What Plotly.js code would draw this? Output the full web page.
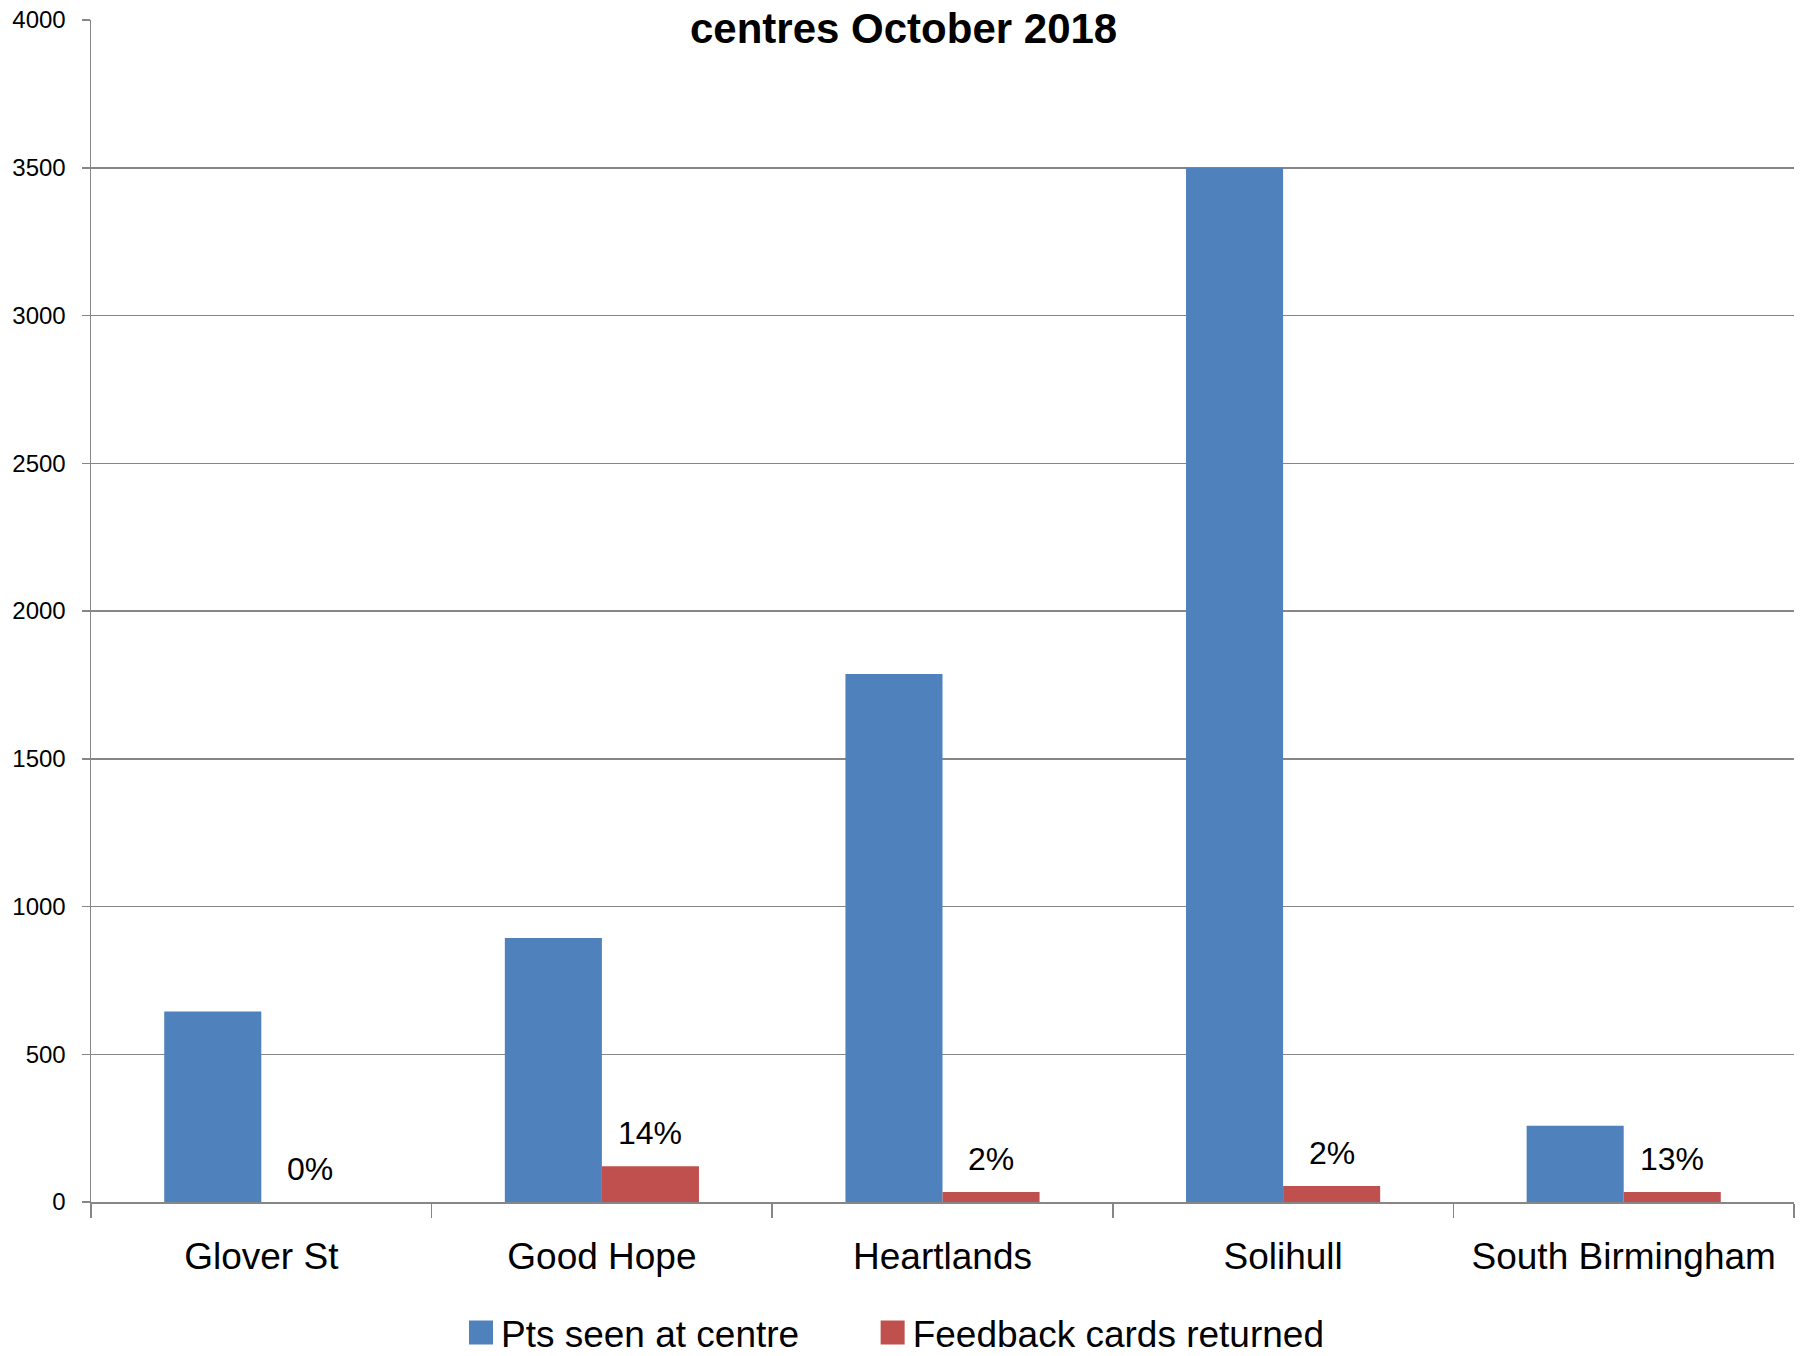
<!DOCTYPE html>
<html>
<head>
<meta charset="utf-8">
<script src="https://cdn.plot.ly/plotly-3.0.1.min.js"></script>
<style>
html,body{margin:0;padding:0;background:#fff;}
#chart{width:1800px;height:1356px;}
</style>
</head>
<body>
<div id="chart"></div>
<script>
var categories = ["Glover St", "Good Hope", "Heartlands", "Solihull", "South Birmingham"];
var ptsSeen = [645, 893, 1787, 3500, 258];
var cardsReturned = [0, 121, 34, 54, 34];
var pctLabels = ["0%", "14%", "2%", "2%", "13%"];
var yTicks = [0, 500, 1000, 1500, 2000, 2500, 3000, 3500, 4000];
var titleText = "centres October 2018";

var FONT = "Liberation Sans, Arial, sans-serif";
var BAR_GAP = 0.43;
var halfBar = (1 - BAR_GAP) / 4; // center offset of each bar in a 2-bar group

var traces = [
  {
    type: "bar",
    name: "Pts seen at centre",
    x: categories,
    y: ptsSeen,
    legend: "legend",
    marker: {color: "#4F81BD", line: {width: 0}},
    hoverinfo: "x+y"
  },
  {
    type: "bar",
    name: "Feedback cards returned",
    x: categories,
    y: cardsReturned,
    legend: "legend2",
    marker: {color: "#C0504D", line: {width: 0}},
    hoverinfo: "x+y"
  }
];

var annotations = categories.map(function (c, i) {
  return {
    x: i + halfBar,
    y: cardsReturned[i],
    xref: "x",
    yref: "y",
    text: pctLabels[i],
    showarrow: false,
    yanchor: "bottom",
    yshift: 13,
    font: {family: FONT, size: 32, color: "#000"}
  };
});

annotations.push({
  xref: "paper",
  yref: "paper",
  x: 0.477,
  y: 0.9924,
  yanchor: "middle",
  xanchor: "center",
  text: "<b>" + titleText + "</b>",
  showarrow: false,
  bgcolor: "#ffffff",
  borderpad: 0,
  font: {family: FONT, size: 42, color: "#000"}
});

function legendBox(xFrac) {
  return {
    orientation: "h",
    xref: "container",
    yref: "container",
    x: xFrac,
    xanchor: "left",
    y: 0.017,
    yanchor: "middle",
    font: {family: FONT, size: 37, color: "#000"},
    bgcolor: "rgba(0,0,0,0)"
  };
}

var layout = {
  width: 1800,
  height: 1356,
  paper_bgcolor: "#ffffff",
  plot_bgcolor: "#ffffff",
  margin: {l: 91, r: 6, t: 20, b: 154},
  barmode: "group",
  bargap: BAR_GAP,
  bargroupgap: 0,
  showlegend: true,
  legend: legendBox(0.2561),
  legend2: legendBox(0.4848),
  xaxis: {
    type: "category",
    showline: true,
    linecolor: "#868686",
    linewidth: 1.5,
    ticks: "outside",
    tickson: "boundaries",
    ticklen: 14,
    tickcolor: "#868686",
    tickwidth: 1.5,
    showgrid: false,
    zeroline: false,
    tickfont: {family: FONT, size: 37, color: "#000"},
    ticklabelstandoff: 21
  },
  yaxis: {
    range: [0, 4000],
    tickvals: yTicks,
    ticktext: yTicks.map(String),
    showline: true,
    linecolor: "#868686",
    linewidth: 1.5,
    ticks: "outside",
    ticklen: 8,
    tickcolor: "#868686",
    tickwidth: 1.5,
    showgrid: true,
    gridcolor: "#868686",
    gridwidth: 1.5,
    zeroline: false,
    tickfont: {family: FONT, size: 24, color: "#000"},
    ticklabelstandoff: 11
  },
  annotations: annotations
};

Plotly.newPlot("chart", traces, layout, {displayModeBar: false, staticPlot: true}).then(function () {
  var pts = document.querySelectorAll("#chart .legendpoints path");
  pts.forEach(function (p) {
    var t = p.getAttribute("transform") || "";
    p.setAttribute("transform", t + " scale(2)");
    p.style.strokeWidth = "0";
  });
});
</script>
</body>
</html>
